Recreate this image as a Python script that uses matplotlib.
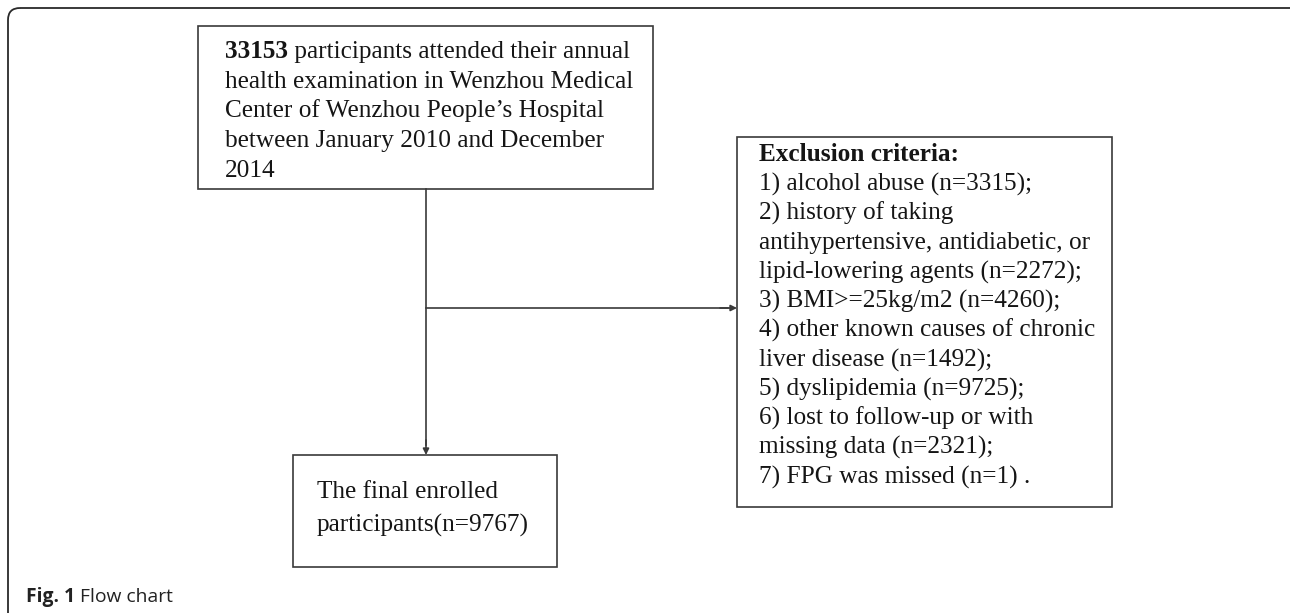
import matplotlib
matplotlib.use("Agg")
import matplotlib.pyplot as plt
from matplotlib.patches import Rectangle, FancyBboxPatch

# ---- content ----
top_count = "33153"
top_lines = [
    " participants attended their annual",
    "health examination in Wenzhou Medical",
    "Center of Wenzhou People\u2019s Hospital",
    "between January 2010 and December",
    "2014",
]
excl_title = "Exclusion criteria:"
excl_lines = [
    "1) alcohol abuse (n=3315);",
    "2) history of taking",
    "antihypertensive, antidiabetic, or",
    "lipid-lowering agents (n=2272);",
    "3) BMI>=25kg/m2 (n=4260);",
    "4) other known causes of chronic",
    "liver disease (n=1492);",
    "5) dyslipidemia (n=9725);",
    "6) lost to follow-up or with",
    "missing data (n=2321);",
    "7) FPG was missed (n=1) .",
]
final_lines = ["The final enrolled", "participants(n=9767)"]
caption_bold = "Fig. 1"
caption_text = " Flow chart"

W, H = 1290, 613
fig = plt.figure(figsize=(W / 100, H / 100), dpi=100)
ax = fig.add_axes([0, 0, 1, 1])
ax.set_xlim(0, W)
ax.set_ylim(H, 0)
ax.axis("off")

serif = "Liberation Serif"
fs = 18.2
tc = "#151515"
lc = "#3a3a3a"
lw = 1.2

# outer rounded border
outer = FancyBboxPatch((8, 8), 1300, 640, boxstyle="round,pad=0,rounding_size=12",
                       fill=False, ec="#2a2a2a", lw=1.3)
ax.add_patch(outer)

# boxes
ax.add_patch(Rectangle((198, 26), 455, 163, fill=False, ec=lc, lw=lw))
ax.add_patch(Rectangle((737, 137), 375, 370, fill=False, ec=lc, lw=lw))
ax.add_patch(Rectangle((293, 455), 264, 112, fill=False, ec=lc, lw=lw))

# top box text
y0, dy = 58, 29.7
t = ax.text(225, y0, top_count, family=serif, fontsize=fs, fontweight="bold",
            va="baseline", ha="left", color=tc)
fig.canvas.draw()
bb = t.get_window_extent()
x_after = bb.x1
ax.text(x_after, y0, top_lines[0], family=serif, fontsize=fs, va="baseline",
        ha="left", color=tc)
for i, line in enumerate(top_lines[1:], start=1):
    ax.text(225, y0 + i * dy, line, family=serif, fontsize=fs, va="baseline",
            ha="left", color=tc)

# exclusion text
ey0, edy = 161, 29.3
ax.text(759, ey0, excl_title, family=serif, fontsize=fs, fontweight="bold",
        va="baseline", ha="left", color=tc)
for i, line in enumerate(excl_lines, start=1):
    ax.text(759, ey0 + i * edy, line, family=serif, fontsize=fs, va="baseline",
            ha="left", color=tc)

# final box text
for i, line in enumerate(final_lines):
    ax.text(317, 498 + i * 34, line, family=serif, fontsize=fs, va="baseline",
            ha="left", color=tc)

# connectors
ax.plot([426, 426], [189, 445], color=lc, lw=lw)
ax.annotate("", xy=(426, 455), xytext=(426, 440),
            arrowprops=dict(arrowstyle="-|>", color=lc, lw=lw, mutation_scale=9,
                            shrinkA=0, shrinkB=0))
ax.plot([426, 728], [308, 308], color=lc, lw=lw)
ax.annotate("", xy=(737, 308), xytext=(720, 308),
            arrowprops=dict(arrowstyle="-|>", color=lc, lw=lw, mutation_scale=9,
                            shrinkA=0, shrinkB=0))

# caption
c = ax.text(26, 602, caption_bold, family="Open Sans", fontsize=13.9,
            fontweight="bold", va="baseline", ha="left", color="#222")
fig.canvas.draw()
cb = c.get_window_extent()
ax.text(cb.x1, 602, caption_text, family="Open Sans", fontsize=13.9,
        va="baseline", ha="left", color="#222")

fig.savefig("out.png", dpi=100, facecolor="white")
